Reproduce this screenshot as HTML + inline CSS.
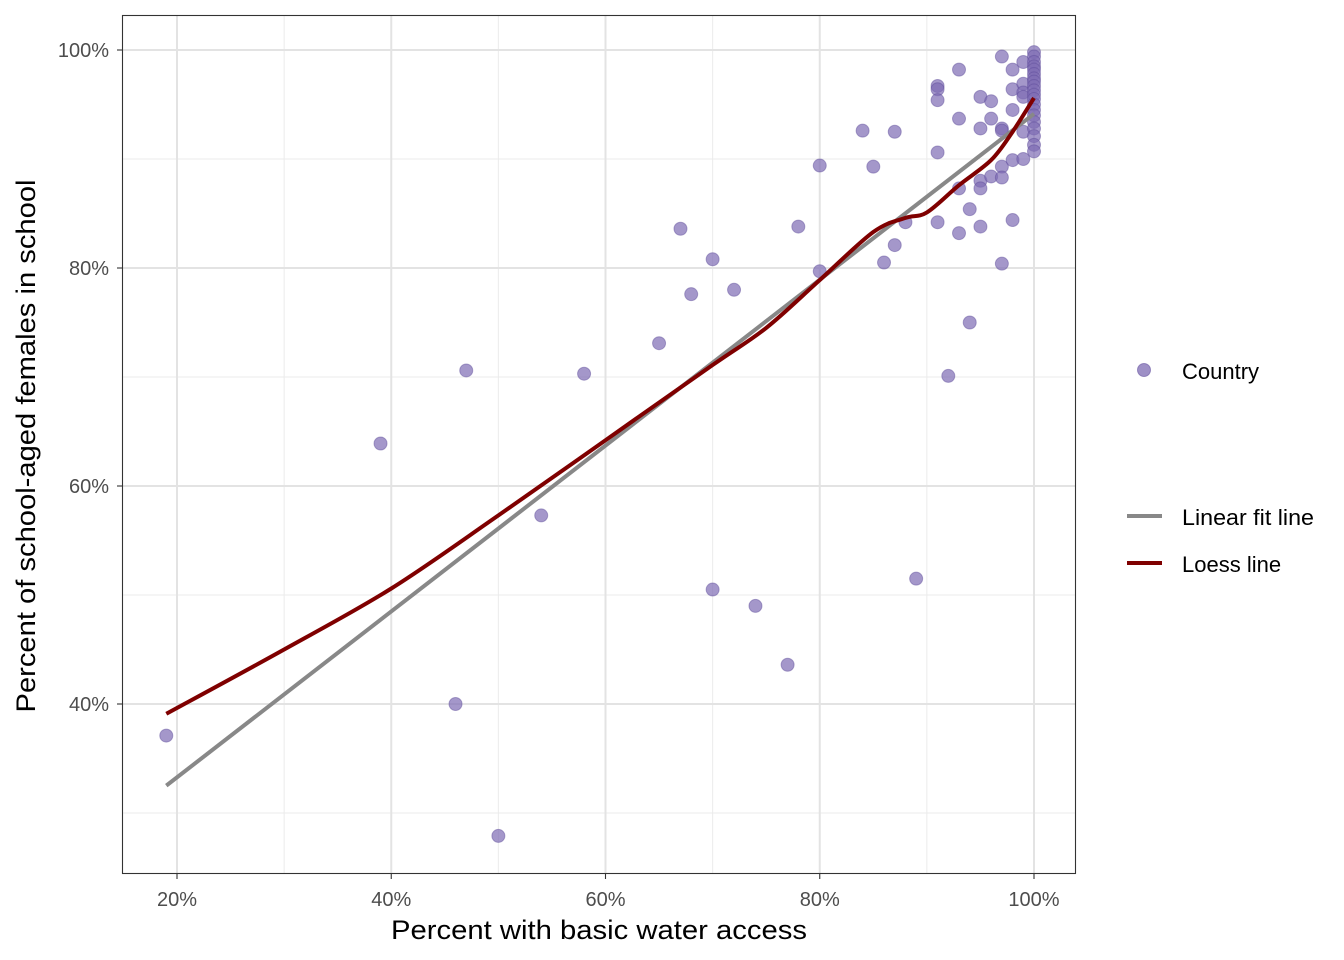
<!DOCTYPE html>
<html><head><meta charset="utf-8"><style>
html,body{margin:0;padding:0;background:#fff;}
svg{display:block;font-family:"Liberation Sans",Arial,sans-serif;}
</style></head><body>
<svg id="chart" width="1344" height="960" viewBox="0 0 1344 960">
<rect x="0" y="0" width="1344" height="960" fill="#fff"/>
<g id="grid"></g>
<g id="marks"></g>
<rect x="122.5" y="15.5" width="953" height="858" fill="none" stroke="#333" stroke-width="1.1"/>
<g id="axes"></g>
<text x="599" y="939" font-size="27" text-anchor="middle" textLength="416" lengthAdjust="spacingAndGlyphs" fill="#000">Percent with basic water access</text>
<text transform="translate(35,446) rotate(-90)" font-size="27" text-anchor="middle" textLength="533" lengthAdjust="spacingAndGlyphs" fill="#000">Percent of school-aged females in school</text>
<g>
<g>
<circle cx="1144" cy="370" r="6.5" fill="#7e6bb3" fill-opacity="0.75" stroke="#6a58a3" stroke-opacity="0.6" stroke-width="1"/>
<text x="1182" y="379" font-size="22" fill="#000">Country</text></g>
<g>
<line x1="1127" y1="516" x2="1162" y2="516" stroke="#888" stroke-width="4"/>
<text x="1182" y="525" font-size="22" textLength="132" lengthAdjust="spacingAndGlyphs" fill="#000">Linear fit line</text></g>
<g>
<line x1="1127" y1="563" x2="1162" y2="563" stroke="#7f0000" stroke-width="4"/>
<text x="1182" y="572" font-size="22" fill="#000">Loess line</text></g>
</g>
</svg>
<script>
const waterAccess = [19,50,46,39,47,54,58,65,67,68,70,70,72,74,77,78,80,80,84,85,86,87,87,88,89,91,91,91,91,91,92,93,93,93,93,94,94,95,95,95,95,95,96,96,96,97,97,97,97,97,97,98,98,98,98,98,99,99,99,99,99,99,
100,100,100,100,100,100,100,100,100,100,100,100,100,100,100,100,100,100,100,100];
const femalesInSchool = [37.1,27.9,40,63.9,70.6,57.3,70.3,73.1,83.6,77.6,80.8,50.5,78,49,43.6,83.8,89.4,79.7,92.6,89.3,80.5,92.5,82.1,84.2,51.5,96.7,96.4,95.4,90.6,84.2,70.1,98.2,93.7,87.3,83.2,85.4,75,95.7,92.8,88,87.3,83.8,95.3,93.7,88.4,99.4,92.8,92.6,89.3,88.3,80.4,98.2,96.4,94.5,89.9,84.4,98.9,96.9,96.1,95.7,92.5,90,
99.8,99.4,98.9,98.5,98.2,97.8,97.4,97.1,96.7,96.3,95.9,95.5,95,94.5,94,93.4,92.8,92.1,91.3,90.7];
const loessX = [19,30,40,50,60,70,75,80,85,88,90,93,96,98,100];
const loessY = [39.1,45,50.6,57.3,64.2,71.1,74.5,78.9,83.3,84.6,85.1,87.6,89.9,92.5,95.6];
const xTicks = [20,40,60,80,100];
const xTickLabels = ["20%","40%","60%","80%","100%"];
const yTicks = [40,60,80,100];
const yTickLabels = ["40%","60%","80%","100%"];
const xMinor = [30,50,70,90];
const yMinor = [30,50,70,90];

const NS="http://www.w3.org/2000/svg";
const xs = v => 177 + (v-20)*(1034-177)/80;
const ys = v => 50 + (100-v)*(704-50)/60;
function mk(tag, attrs, parent){const e=document.createElementNS(NS,tag);for(const k in attrs)e.setAttribute(k,attrs[k]);parent.appendChild(e);return e;}
const grid=document.getElementById('grid'), marks=document.getElementById('marks'), axes=document.getElementById('axes');
xMinor.forEach(v=>{const l=mk('line',{x1:xs(v),x2:xs(v),y1:15,y2:874,stroke:'#ebebeb','stroke-width':1},grid);

});
yMinor.forEach(v=>{const l=mk('line',{x1:122,x2:1076,y1:ys(v),y2:ys(v),stroke:'#ebebeb','stroke-width':1},grid);

});
xTicks.forEach((v,i)=>{const l=mk('line',{x1:xs(v),x2:xs(v),y1:15,y2:874,stroke:'#e3e3e3','stroke-width':2},grid);


const t=mk('line',{x1:xs(v),x2:xs(v),y1:874,y2:879,stroke:'#333','stroke-width':1.1},axes);


const tx=mk('text',{x:xs(v),y:906,'font-size':20,'text-anchor':'middle',fill:'#4d4d4d'},axes);tx.textContent=xTickLabels[i];

});
yTicks.forEach((v,i)=>{const l=mk('line',{x1:122,x2:1076,y1:ys(v),y2:ys(v),stroke:'#e3e3e3','stroke-width':2},grid);


const t=mk('line',{x1:117,x2:122,y1:ys(v),y2:ys(v),stroke:'#333','stroke-width':1.1},axes);


const tx=mk('text',{x:109,y:ys(v)+7,'font-size':20,'text-anchor':'end',fill:'#4d4d4d'},axes);tx.textContent=yTickLabels[i];

});
waterAccess.forEach((x,i)=>{const c=mk('circle',{cx:xs(x),cy:ys(femalesInSchool[i]),r:6.5,fill:'#7e6bb3','fill-opacity':0.7,stroke:'#5e4c9a','stroke-opacity':0.45,'stroke-width':1},marks);

});
// linear fit (OLS)
const n=waterAccess.length;let mx=0,my=0;waterAccess.forEach((x,i)=>{mx+=x;my+=femalesInSchool[i];});mx/=n;my/=n;
let sxy=0,sxx=0;waterAccess.forEach((x,i)=>{sxy+=(x-mx)*(femalesInSchool[i]-my);sxx+=(x-mx)**2;});
const b=sxy/sxx,a=my-b*mx;const x0=Math.min(...waterAccess),x1=Math.max(...waterAccess);
const lin=mk('line',{x1:xs(x0),y1:ys(a+b*x0),x2:xs(x1),y2:ys(a+b*x1),stroke:'#888','stroke-width':4},marks);


// smooth loess path (Catmull-Rom)
const P=loessX.map((x,i)=>[xs(x),ys(loessY[i])]);
let d='M'+P[0][0].toFixed(1)+','+P[0][1].toFixed(1);
for(let i=0;i<P.length-1;i++){const p0=P[Math.max(0,i-1)],p1=P[i],p2=P[i+1],p3=P[Math.min(P.length-1,i+2)];
const c1=[p1[0]+(p2[0]-p0[0])/6,p1[1]+(p2[1]-p0[1])/6],c2=[p2[0]-(p3[0]-p1[0])/6,p2[1]-(p3[1]-p1[1])/6];
d+=' C'+c1.map(v=>v.toFixed(1)).join(',')+' '+c2.map(v=>v.toFixed(1)).join(',')+' '+p2.map(v=>v.toFixed(1)).join(',');}
const lo=mk('path',{d:d,fill:'none',stroke:'#7f0000','stroke-width':4,'stroke-linejoin':'round'},marks);


</script>
</body></html>
